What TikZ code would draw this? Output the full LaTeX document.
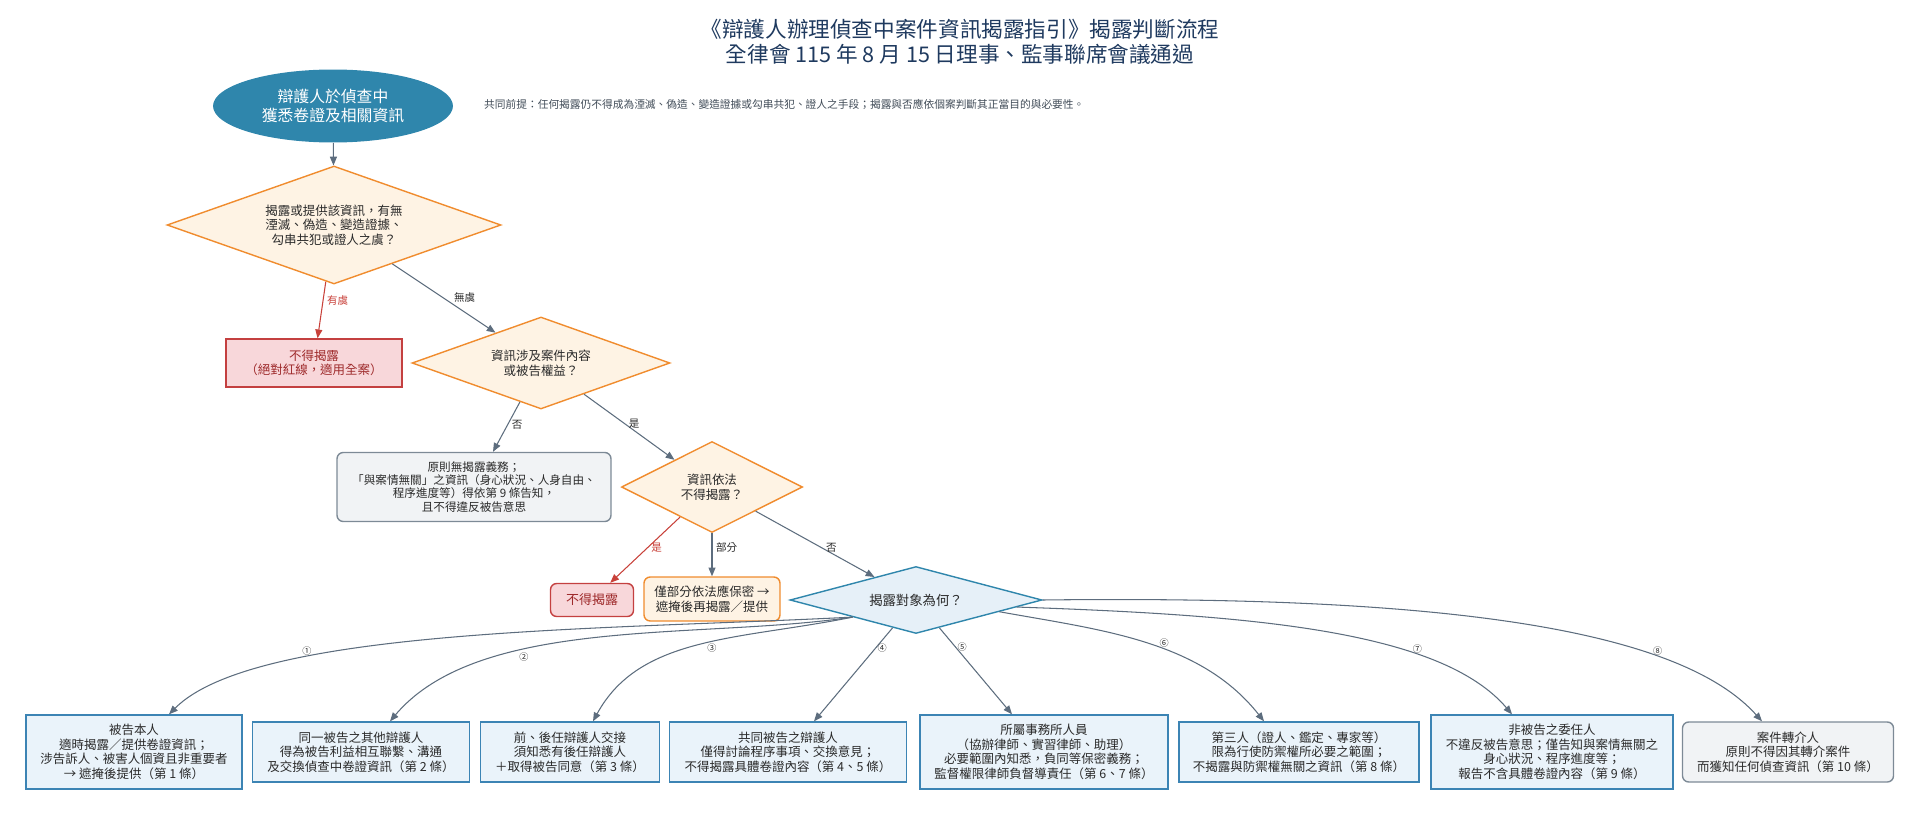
\documentclass[tikz,border=0pt]{standalone}
\usepackage{fontspec}
\setmainfont{Noto Sans CJK TC}
\usepackage{tikz}
\usetikzlibrary{arrows.meta,shapes.geometric}

\definecolor{titlecol}{HTML}{1F3A5F}
\definecolor{txtcol}{HTML}{2A2A2A}
\definecolor{startcol}{HTML}{2F86AC}
\definecolor{decfill}{HTML}{FEF3E4}
\definecolor{decdraw}{HTML}{F08C2E}
\definecolor{redfill}{HTML}{F8D7DA}
\definecolor{reddraw}{HTML}{C44040}
\definecolor{redtxt}{HTML}{9E2A2B}
\definecolor{grayfill}{HTML}{F1F3F5}
\definecolor{graydraw}{HTML}{7D8A96}
\definecolor{bluefill}{HTML}{EAF3FA}
\definecolor{bluedraw}{HTML}{3C84B4}
\definecolor{askfill}{HTML}{E6F0F8}
\definecolor{linkcol}{HTML}{5D6D7E}
\definecolor{redlinkcol}{HTML}{C8413A}

\begin{document}
\begin{tikzpicture}[x = 0.02cm, y = -0.02cm, > = {Triangle[length=5pt, width=4pt]},
    every node/.style = {font = \fontsize{7.1}{8.3}\selectfont, text = txtcol, align = center},
    dec/.style = {shape = diamond, aspect = 2.8, inner sep = 0pt, fill = decfill, draw = decdraw, line width = 0.8pt},
    redbox/.style = {fill = redfill, draw = reddraw, line width = 0.8pt, text = redtxt},
    graybox/.style = {fill = grayfill, draw = graydraw, line width = 0.8pt, rounded corners = 3.5pt},
    whobox/.style = {fill = bluefill, draw = bluedraw, line width = 0.8pt, minimum height = 1.2cm},
    link/.style = {->, draw = linkcol, line width = 0.6pt},
    redlink/.style = {->, draw = redlinkcol, line width = 0.6pt},
    lab/.style = {font = \fontsize{6}{7}\selectfont, inner sep = 2pt},
    num/.style = {font = \fontsize{5.2}{6}\selectfont, inner sep = 1pt}]
  \useasboundingbox (0,0) rectangle (1920,814);

  \node at (960,42) [text = titlecol, font = \fontsize{12.3}{14.4}\selectfont] (title) {《辯護人辦理偵查中案件資訊揭露指引》揭露判斷流程\\全律會 115 年 8 月 15 日理事、監事聯席會議通過};
  \node at (333,106) [shape = ellipse, fill = startcol, inner sep = 0pt, minimum width = 4.8cm, minimum height = 1.46cm, text = white, font = \fontsize{9}{10.6}\selectfont] (start) {辯護人於偵查中\\獲悉卷證及相關資訊};
  \node at (478,104) [anchor = west, font = \fontsize{6.1}{7}\selectfont, text = linkcol!70!black] (note) {共同前提：任何揭露仍不得成為湮滅、偽造、變造證據或勾串共犯、證人之手段；揭露與否應依個案判斷其正當目的與必要性。};

  \node at (334,225) [dec, minimum width = 6.68cm, minimum height = 2.36cm] (risk) {揭露或提供該資訊，有無\\湮滅、偽造、變造證據、\\勾串共犯或證人之虞？};
  \node at (314,363) [redbox, minimum width = 3.52cm, minimum height = 0.96cm] (redline) {不得揭露\\（絕對紅線，適用全案）};
  \node at (541,363) [dec, minimum width = 5.16cm, minimum height = 1.84cm] (scope) {資訊涉及案件內容\\或被告權益？};
  \node at (474,487) [graybox, minimum width = 5.48cm, minimum height = 1.38cm, font = \fontsize{6.6}{7.5}\selectfont] (noduty) {原則無揭露義務；\\「與案情無關」之資訊（身心狀況、人身自由、\\程序進度等）得依第 9 條告知，\\且不得違反被告意思};
  \node at (712,487) [dec, aspect = 2, minimum width = 3.62cm, minimum height = 1.82cm] (secret) {資訊依法\\不得揭露？};
  \node at (592,600) [redbox, rounded corners = 3.5pt, minimum width = 1.66cm, minimum height = 0.66cm, font = \fontsize{7.4}{8.5}\selectfont] (nodisc) {不得揭露};
  \node at (712,599) [fill = decfill, draw = decdraw, line width = 0.8pt, rounded corners = 3.5pt, minimum width = 2.72cm, minimum height = 0.88cm] (partly) {僅部分依法應保密 →\\遮掩後再揭露／提供};
  \node at (916,600) [dec, aspect = 3.76, fill = askfill, draw = startcol, minimum width = 5.04cm, minimum height = 1.34cm, font = \fontsize{7.6}{8.6}\selectfont] (whom) {揭露對象為何？};

  \node at (134,752) [whobox, minimum width = 4.32cm, minimum height = 1.48cm] (accused) {被告本人\\適時揭露／提供卷證資訊；\\涉告訴人、被害人個資且非重要者\\→ 遮掩後提供（第 1 條）};
  \node at (361,752) [whobox, minimum width = 4.34cm] (codef) {同一被告之其他辯護人\\得為被告利益相互聯繫、溝通\\及交換偵查中卷證資訊（第 2 條）};
  \node at (570,752) [whobox, minimum width = 3.58cm] (handover) {前、後任辯護人交接\\須知悉有後任辯護人\\＋取得被告同意（第 3 條）};
  \node at (788,752) [whobox, minimum width = 4.74cm] (joint) {共同被告之辯護人\\僅得討論程序事項、交換意見；\\不得揭露具體卷證內容（第 4、5 條）};
  \node at (1044,752) [whobox, minimum width = 4.96cm, minimum height = 1.48cm] (office) {所屬事務所人員\\（協辦律師、實習律師、助理）\\必要範圍內知悉，負同等保密義務；\\監督權限律師負督導責任（第 6、7 條）};
  \node at (1299,752) [whobox, minimum width = 4.8cm] (third) {第三人（證人、鑑定、專家等）\\限為行使防禦權所必要之範圍；\\不揭露與防禦權無關之資訊（第 8 條）};
  \node at (1552,752) [whobox, minimum width = 4.84cm, minimum height = 1.48cm] (client) {非被告之委任人\\不違反被告意思；僅告知與案情無關之\\身心狀況、程序進度等；\\報告不含具體卷證內容（第 9 條）};
  \node at (1788,752) [graybox, minimum width = 4.22cm, minimum height = 1.2cm] (referrer) {案件轉介人\\原則不得因其轉介案件\\而獲知任何偵查資訊（第 10 條）};

  \draw[link] (start) -- (risk);
  \draw[redlink] (risk) -- (redline) node[lab, pos = 0.33, right, text = redlinkcol] {有虞};
  \draw[link] (risk) -- (scope) node[lab, pos = 0.7, above = 3pt] {無虞};
  \draw[link] (scope) -- (noduty) node[lab, pos = 0.45, right] {否};
  \draw[link] (scope) -- (secret) node[lab, pos = 0.45, right] {是};
  \draw[redlink] (secret) -- (nodisc) node[lab, pos = 0.47, right, text = redlinkcol] {是};
  \draw[link] (secret) -- (partly) node[lab, pos = 0.34, right] {部分};
  \draw[link] (secret) -- (whom) node[lab, pos = 0.56, right] {否};

  \draw[link] (whom.south west) .. controls (600,630) and (255,628) .. ([xshift = 0.7cm]accused.north) node[num, pos = 0.7, above] {①};
  \draw[link] (whom.south west) .. controls (700,640) and (480,615) .. ([xshift = 0.58cm]codef.north) node[num, pos = 0.65, below] {②};
  \draw[link] (whom.south west) .. controls (740,640) and (640,635) .. ([xshift = 0.46cm]handover.north) node[num, pos = 0.45, below] {③};
  \draw[link] (whom) -- ([xshift = 0.52cm]joint.north) node[num, pos = 0.22, right] {④};
  \draw[link] (whom) -- ([xshift = -0.64cm]office.north) node[num, pos = 0.22, right] {⑤};
  \draw[link] (whom.-8) .. controls (1100,630) and (1200,640) .. ([xshift = -0.7cm]third.north) node[num, pos = 0.57, above] {⑥};
  \draw[link] (whom.-4) .. controls (1250,615) and (1440,630) .. ([xshift = -0.8cm]client.north) node[num, pos = 0.7, above] {⑦};
  \draw[link] (whom.east) .. controls (1450,595) and (1680,630) .. ([xshift = -0.52cm]referrer.north) node[num, pos = 0.72, above] {⑧};
\end{tikzpicture}
\end{document}
